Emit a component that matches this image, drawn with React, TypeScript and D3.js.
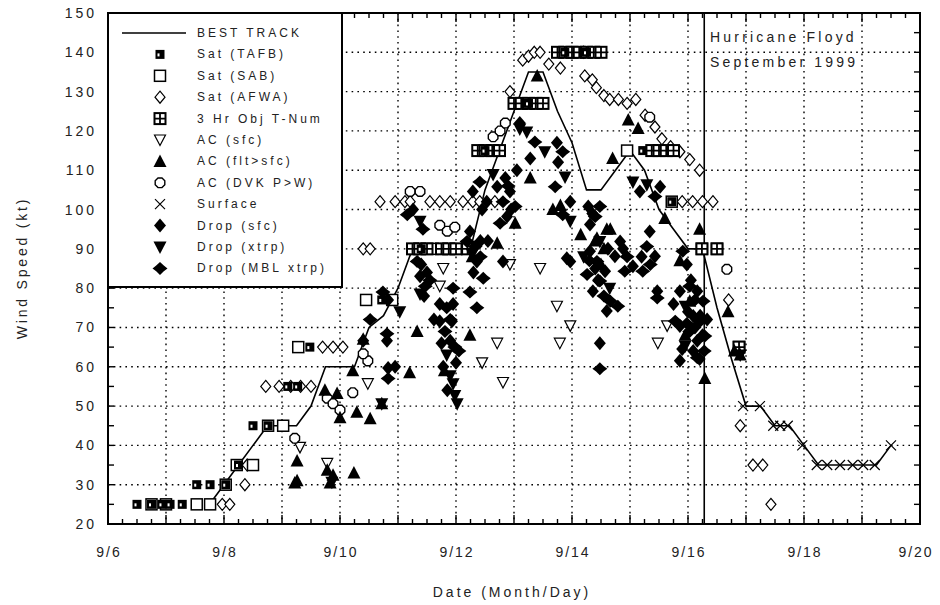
import * as d3 from "d3";

type Pt = [number, number];

// day of September, wind speed (kt)
const bestTrack: Pt[] = [
  [7.75, 25], [8.0, 30], [8.25, 35], [8.5, 40], [8.75, 45], [9.0, 45], [9.25, 45], [9.5, 50],
  [9.75, 60], [10.0, 60], [10.25, 60], [10.5, 70], [10.75, 73], [11.0, 80], [11.25, 90], [11.5, 90],
  [11.75, 90], [12.0, 90], [12.25, 90], [12.5, 105], [12.75, 115], [13.0, 125], [13.25, 135], [13.5, 135],
  [13.75, 125], [14.0, 117], [14.25, 105], [14.5, 105], [14.75, 110], [15.0, 115], [15.25, 110], [15.5, 100],
  [15.75, 95], [16.0, 90], [16.25, 90], [16.5, 75], [16.75, 62], [17.0, 50], [17.25, 50], [17.5, 45],
  [17.75, 45], [18.0, 40], [18.25, 35], [18.5, 35], [18.75, 35], [19.0, 35], [19.25, 35], [19.5, 40],
];

const satTAFB: Pt[] = [
  [6.5, 25], [6.75, 25], [6.93, 25], [7.07, 25], [7.28, 25], [7.53, 30], [7.76, 30], [8.03, 30],
  [8.25, 35], [8.5, 45], [8.76, 45], [9.1, 55], [9.27, 55], [9.48, 65], [10.72, 77], [11.4, 90],
  [12.5, 115], [13.25, 127], [13.875, 140], [14.25, 140], [15.22, 115], [15.72, 102],
];

const satSAB: Pt[] = [
  [6.75, 25], [7.0, 25], [7.53, 25], [7.76, 25], [8.03, 30], [8.22, 35], [8.5, 35], [8.76, 45],
  [9.02, 45], [9.28, 65], [10.45, 77], [10.9, 77], [11.6, 90], [14.95, 115], [15.72, 102],
  [16.24, 90], [16.5, 90], [16.88, 65],
];

const satAFWA: Pt[] = [
  [7.97, 25], [8.1, 25], [8.36, 30], [8.4, 35], [8.72, 55], [8.95, 55], [9.15, 55], [9.32, 55],
  [9.5, 55], [9.7, 65], [9.88, 65], [10.05, 65], [10.4, 90], [10.52, 90], [10.69, 102], [10.95, 102],
  [11.12, 102], [11.21, 102], [11.55, 102], [11.72, 102], [11.9, 102], [12.12, 102], [12.29, 102],
  [12.41, 102], [12.67, 102], [12.93, 130], [13.15, 138], [13.25, 139], [13.35, 140], [13.45, 140],
  [13.6, 137], [13.8, 136], [14.0, 140], [14.2, 140], [14.22, 134], [14.35, 133], [14.42, 131],
  [14.55, 129], [14.65, 128], [14.8, 128], [14.95, 127], [15.1, 128], [15.26, 124], [15.43, 121],
  [15.55, 118], [15.7, 116], [15.86, 114.7], [16.03, 112.7], [16.2, 110], [15.9, 102], [16.08, 102],
  [16.25, 102], [16.43, 102], [16.7, 77], [16.9, 45], [17.12, 35], [17.29, 35], [17.43, 25],
];

const objTNum: Pt[] = [
  [11.25, 90], [11.375, 90], [11.5, 90], [11.75, 90], [11.875, 90], [12.0, 90], [12.2, 90],
  [12.375, 115], [12.5, 115], [12.625, 115], [12.75, 115],
  [13.0, 127], [13.125, 127], [13.25, 127], [13.375, 127], [13.5, 127],
  [13.75, 140], [13.875, 140], [14.0, 140], [14.125, 140], [14.25, 140], [14.375, 140], [14.5, 140],
  [15.375, 115], [15.5, 115], [15.625, 115], [15.75, 115], [16.24, 90], [16.5, 90], [16.88, 65],
];

const acSfc: Pt[] = [
  [9.31, 39.5], [9.78, 35.4], [10.48, 55.7], [11.78, 85], [11.72, 80.5], [12.71, 66], [12.45, 61],
  [12.81, 56], [12.93, 86], [13.45, 85], [13.74, 75.4], [13.97, 70.4], [13.79, 66], [15.64, 70.4],
  [15.48, 66],
];

const acFlt: Pt[] = [
  [9.26, 36], [9.26, 31], [9.22, 30.4], [9.78, 33.7], [9.88, 32.4], [9.83, 30.4], [10.24, 33],
  [9.74, 54], [9.95, 53.2], [10.0, 47], [10.29, 48.4], [10.52, 46.8], [10.72, 50.6], [10.22, 59],
  [10.4, 67], [11.33, 69], [12.24, 68], [11.2, 58.5], [11.8, 59], [13.02, 96.5], [12.71, 91.4],
  [13.4, 134], [13.28, 108], [14.97, 122.8], [15.14, 120.6], [14.7, 113], [13.8, 101], [14.6, 95],
  [14.43, 92.7], [15.86, 87], [13.67, 100], [14.66, 95], [14.4, 92], [14.55, 90], [15.6, 97.7],
  [16.2, 95], [16.29, 57], [16.69, 74], [16.8, 64], [16.9, 63], [16.03, 76.7], [15.95, 68], [12.28, 88],
  [14.15, 93.6], [14.5, 86],
];

const acDvk: Pt[] = [
  [9.22, 41.8], [9.78, 52], [9.88, 50.6], [10.0, 49], [10.22, 53.4], [10.48, 61.5], [10.4, 63.3],
  [11.21, 104.6], [11.38, 104.6], [11.72, 96], [11.85, 94.5], [11.98, 95.5], [12.64, 118.5],
  [12.76, 120], [12.85, 122], [15.34, 123.5], [16.67, 84.8],
];

const surface: Pt[] = [
  [16.95, 50], [17.24, 50], [17.47, 45], [17.59, 45], [17.72, 45], [17.97, 40], [18.22, 35],
  [18.4, 35], [18.62, 35], [18.84, 35], [19.02, 35], [19.22, 35], [19.5, 40],
];

const dropSfc: Pt[] = [
  [10.4, 66.6], [10.83, 77], [10.95, 60], [10.83, 59.7], [10.81, 66.6], [11.26, 100], [11.38, 83],
  [11.72, 76], [11.95, 76], [11.72, 71.6], [11.9, 66.6], [11.93, 71.6], [11.78, 60], [12.29, 104.6],
  [12.53, 102], [12.24, 94.4], [12.36, 86.8], [12.71, 105.8], [12.93, 104.6], [12.88, 98.2],
  [13.1, 122], [13.28, 113], [12.81, 86.8], [13.74, 117], [13.76, 112], [13.97, 102], [14.28, 100.8],
  [14.31, 96.2], [13.97, 86.8], [14.31, 89.4], [14.57, 84.3], [14.36, 79.2], [14.6, 74.2],
  [14.74, 88.1], [15.17, 104.6], [15.52, 105.8], [14.83, 91.9], [15.05, 85.6], [15.34, 94.4],
  [15.43, 88.1], [15.47, 79.2], [15.98, 86], [15.86, 79.2], [16.16, 79.2], [16.09, 72.9],
  [15.86, 70.4], [16.16, 66.6], [16.09, 64], [16.21, 73], [16.33, 72], [15.86, 61.5], [13.91, 87.6],
  [14.48, 66], [12.55, 92], [12.45, 100],
  [11.4, 86], [11.5, 84], [11.45, 78], [11.62, 72], [11.75, 66], [12.0, 61], [11.85, 54],
  [12.3, 84], [12.42, 92], [12.85, 108], [12.95, 100], [13.05, 110], [14.35, 99], [14.4, 85],
  [14.45, 82], [14.62, 90], [14.88, 90], [15.2, 88], [16.0, 74], [16.2, 62], [16.25, 68], [16.05, 82],
  [15.9, 64.5], [15.75, 76], [16.12, 70],
];

const dropXtrp: Pt[] = [
  [9.86, 30.6], [10.72, 50.6], [11.03, 74], [11.38, 97], [11.38, 78.5], [11.84, 63], [11.9, 57.7],
  [11.95, 55.7], [11.98, 52.7], [12.02, 50.6], [12.28, 88.6], [12.64, 108.9], [13.1, 120.5],
  [13.22, 119.7], [13.53, 114.7], [13.88, 108.3], [13.97, 97], [14.48, 91.9], [15.05, 107],
  [15.29, 106.3], [15.95, 75.4], [15.95, 65.3], [16.9, 63], [14.2, 88], [14.65, 80],
];

const dropMbl: Pt[] = [
  [10.52, 72], [10.74, 79], [10.83, 57], [10.81, 68.4], [11.16, 98.7], [11.43, 95], [11.33, 86.8],
  [11.47, 80.5], [11.84, 75], [11.95, 80], [12.24, 79], [12.36, 75], [11.81, 69], [11.98, 65],
  [12.41, 107], [12.33, 90.6], [12.47, 82.5], [12.19, 91.9], [12.81, 102], [13.02, 100.8],
  [12.76, 96.5], [13.36, 117.2], [13.84, 114.7], [13.71, 105.8], [13.84, 98.7], [14.4, 98.2],
  [14.48, 100.8], [14.43, 86.8], [14.48, 81.8], [14.66, 76.7], [14.79, 75.4], [14.26, 83.5],
  [15.43, 103.3], [14.95, 88], [14.91, 84.3], [15.29, 90.6], [15.22, 84.3], [15.47, 77.5],
  [15.91, 89.4], [16.03, 80.5], [16.26, 76.7], [16.21, 71.6], [16.03, 69], [16.29, 67.8],
  [15.78, 71.6], [16.16, 62.3], [14.48, 59.5],
  [11.55, 82], [11.9, 72], [12.05, 64], [12.42, 88], [12.9, 106], [14.3, 87], [14.55, 78],
  [15.35, 86], [16.12, 77], [16.28, 64], [15.98, 71],
];

const xLabelDays = [6, 8, 10, 12, 14, 16, 18, 20];
const xLabels = ["9/6", "9/8", "9/10", "9/12", "9/14", "9/16", "9/18", "9/20"];
const yLabels = [20, 30, 40, 50, 60, 70, 80, 90, 100, 110, 120, 130, 140, 150];
const landfallDay = 16.28;

const legendItems: [string, string][] = [
  ["line", "BEST TRACK"],
  ["tafb", "Sat (TAFB)"],
  ["sab", "Sat (SAB)"],
  ["afwa", "Sat (AFWA)"],
  ["obj3", "3 Hr Obj T-Num"],
  ["acSfc", "AC (sfc)"],
  ["acFlt", "AC (flt>sfc)"],
  ["dvk", "AC (DVK P>W)"],
  ["surface", "Surface"],
  ["dropSfc", "Drop (sfc)"],
  ["dropXtrp", "Drop (xtrp)"],
  ["mbl", "Drop (MBL xtrp)"],
];

const seriesList: [string, Pt[]][] = [
  ["afwa", satAFWA],
  ["sab", satSAB],
  ["obj3", objTNum],
  ["tafb", satTAFB],
  ["acSfc", acSfc],
  ["dvk", acDvk],
  ["surface", surface],
  ["acFlt", acFlt],
  ["dropSfc", dropSfc],
  ["dropXtrp", dropXtrp],
  ["mbl", dropMbl],
];

const FONT = "'Liberation Sans', Arial, sans-serif";
const INK = "#222";

const octagon = d3.range(8).map((i) => {
  const a = (Math.PI / 4) * i + Math.PI / 8;
  return [5.2 * Math.cos(a), 5.2 * Math.sin(a)];
});
const octPath = "M" + octagon.map((p) => p.join(",")).join("L") + "Z";

function marker(type: string, cx: number, cy: number, key: string) {
  const t = `translate(${cx},${cy})`;
  switch (type) {
    case "tafb":
      return (
        <g key={key} transform={t}>
          <rect x={-4.5} y={-4.5} width={9} height={9} fill="#000" />
          <rect x={-2.5} y={-1} width={2} height={3} fill="#fff" />
        </g>
      );
    case "sab":
      return <rect key={key} transform={t} x={-5.5} y={-5.5} width={11} height={11} fill="#fff" stroke="#000" strokeWidth={1.5} />;
    case "afwa":
      return <path key={key} transform={t} d="M0,-6L5,0L0,6L-5,0Z" fill="#fff" stroke="#000" strokeWidth={1.2} />;
    case "obj3":
      return (
        <g key={key} transform={t}>
          <rect x={-5.5} y={-5.5} width={11} height={11} fill="#fff" stroke="#000" strokeWidth={2} />
          <path d="M0,-5.5V5.5M-5.5,0H5.5" stroke="#000" strokeWidth={1.8} />
        </g>
      );
    case "acSfc":
      return <path key={key} transform={t} d="M-5.5,-5H5.5L0,5.5Z" fill="#fff" stroke="#000" strokeWidth={1.2} />;
    case "acFlt":
      return <path key={key} transform={t} d="M0,-7L6.5,5.5H-6.5Z" fill="#000" />;
    case "dvk":
      return <path key={key} transform={t} d={octPath} fill="#fff" stroke="#000" strokeWidth={1.4} />;
    case "surface":
      return <path key={key} transform={t} d="M-5,-5L5,5M-5,5L5,-5" stroke="#000" strokeWidth={1.2} fill="none" />;
    case "dropSfc":
      return <path key={key} transform={t} d="M0,-7L6,0L0,7L-6,0Z" fill="#000" />;
    case "dropXtrp":
      return <path key={key} transform={t} d="M-6.5,-5.5H6.5L0,7Z" fill="#000" />;
    case "mbl":
      return <path key={key} transform={t} d="M0,-6.5L3.8,-2.8L7.5,0L3.8,2.8L0,6.5L-3.8,2.8L-7.5,0L-3.8,-2.8Z" fill="#000" />;
    default:
      return null;
  }
}

export default function App() {
  const W = 940;
  const H = 605;
  const left = 108, right = 920, top = 13, bottom = 524;

  const x = d3.scaleLinear().domain([6, 20]).range([left, right]);
  const y = d3.scaleLinear().domain([20, 150]).range([bottom, top]);

  const line = d3.line<Pt>().x((d) => x(d[0])).y((d) => y(d[1]));

  const dayGrid = d3.range(7, 20);
  const ktGrid = d3.range(30, 150, 10);
  const quarterTicks = d3.range(6, 20.001, 0.25);
  const ktTicks = d3.range(20, 150.001, 5);

  const legX = left, legY = top, legW = 234, legH = 274;

  return (
    <svg width={W} height={H} style={{ position: "absolute", left: 0, top: 0, background: "#fff" }} fontFamily={FONT}>
      <rect width={W} height={H} fill="#fff" />
      {/* dotted grid */}
      <g stroke="#000" strokeWidth={1.4} strokeDasharray="1.6,4.2">
        {dayGrid.map((d) => (
          <line key={"gx" + d} x1={x(d)} x2={x(d)} y1={top} y2={bottom} />
        ))}
        {ktGrid.map((k) => (
          <line key={"gy" + k} x1={left} x2={right} y1={y(k)} y2={y(k)} />
        ))}
      </g>

      {/* landfall */}
      <line x1={x(landfallDay)} x2={x(landfallDay)} y1={top} y2={bottom} stroke="#000" strokeWidth={1.6} />

      {/* best track */}
      <path d={line(bestTrack) || ""} fill="none" stroke="#000" strokeWidth={1.6} />

      {/* observations */}
      {seriesList.map(([type, pts]) =>
        pts.map((p, i) => marker(type, x(p[0]), y(p[1]), type + i))
      )}

      {/* frame and ticks */}
      <rect x={left} y={top} width={right - left} height={bottom - top} fill="none" stroke="#000" strokeWidth={2} />
      <g stroke="#000" strokeWidth={1.4}>
        {quarterTicks.map((d, i) => {
          const len = Math.abs(d - Math.round(d)) < 1e-6 ? 9 : 5;
          return (
            <g key={"xt" + i}>
              <line x1={x(d)} x2={x(d)} y1={bottom} y2={bottom - len} />
              <line x1={x(d)} x2={x(d)} y1={top} y2={top + len} />
            </g>
          );
        })}
        {ktTicks.map((k, i) => (
          <g key={"yt" + i}>
            <line x1={left} x2={left + 6} y1={y(k)} y2={y(k)} />
            <line x1={right} x2={right - 6} y1={y(k)} y2={y(k)} />
          </g>
        ))}
      </g>

      {/* legend */}
      <rect x={legX} y={legY} width={legW} height={legH} fill="#fff" stroke="#000" strokeWidth={2} />
      {legendItems.map(([type, label], i) => {
        const ry = legY + 20 + i * 21.4;
        return (
          <g key={"lg" + i}>
            {type === "line" ? (
              <line x1={122} x2={186} y1={ry} y2={ry} stroke="#000" strokeWidth={1.6} />
            ) : (
              marker(type, 160, ry, "lm" + i)
            )}
            <text x={197} y={ry + 4} fontSize={12} letterSpacing={3} fill={INK}>
              {label}
            </text>
          </g>
        );
      })}

      {/* annotation */}
      <text x={710} y={42} fontSize={14} letterSpacing={3.2} fill={INK}>Hurricane Floyd</text>
      <text x={710} y={67} fontSize={14} letterSpacing={3.2} fill={INK}>September 1999</text>

      {/* tick labels */}
      {yLabels.map((k) => (
        <text key={"yl" + k} x={97} y={y(k) + 5} textAnchor="end" fontSize={14} letterSpacing={3} fill={INK}>
          {k}
        </text>
      ))}
      {xLabelDays.map((d, i) => (
        <text key={"xl" + d} x={Math.min(x(d) + 1, 916)} y={557} textAnchor="middle" fontSize={14} letterSpacing={2} fill={INK}>
          {xLabels[i]}
        </text>
      ))}

      {/* axis titles */}
      <text x={512} y={597} textAnchor="middle" fontSize={14} letterSpacing={3} fill={INK}>
        Date (Month/Day)
      </text>
      <text transform="translate(27,268) rotate(-90)" textAnchor="middle" fontSize={14} letterSpacing={2.8} fill={INK}>
        Wind Speed (kt)
      </text>
    </svg>
  );
}
